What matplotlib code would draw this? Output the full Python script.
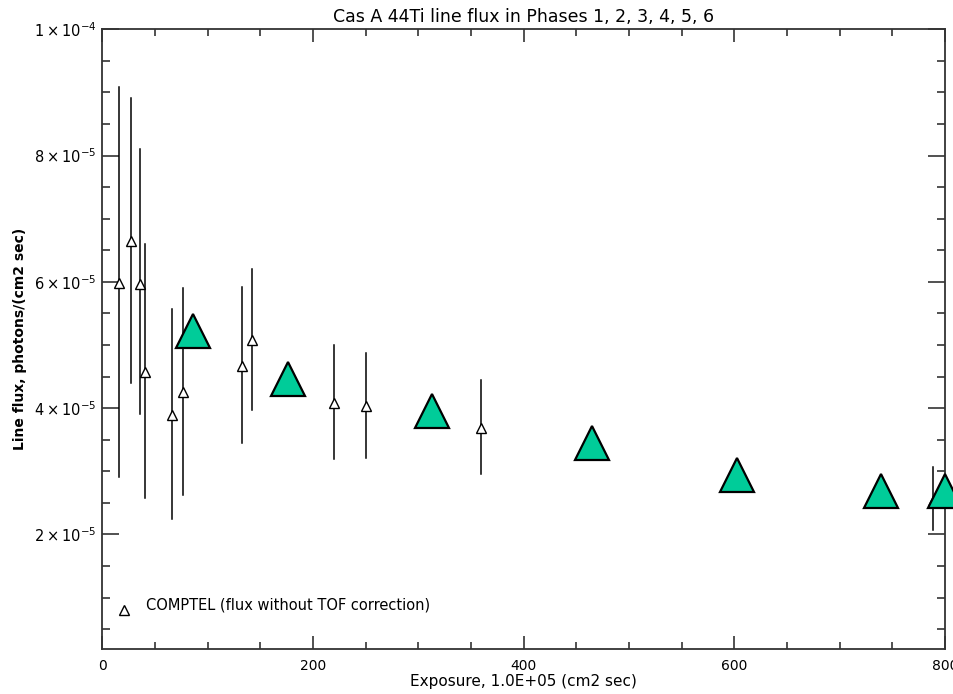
import matplotlib
matplotlib.use("Agg")
import matplotlib.pyplot as plt
from matplotlib.ticker import MultipleLocator, FixedLocator, FuncFormatter

# COMPTEL points (flux without TOF correction), exposure in 1e5 cm2 s
comptel_exp = [16.1, 27.0, 35.8, 41.0, 66.5, 76.9, 132.7, 142.2, 220.3, 250.7, 359.6, 788.2]
comptel_flux = [5.98e-5, 6.64e-5, 5.97e-5, 4.57e-5, 3.89e-5, 4.25e-5,
                4.67e-5, 5.08e-5, 4.08e-5, 4.04e-5, 3.68e-5, 2.53e-5]
comptel_hi = [9.09e-5, 8.91e-5, 8.10e-5, 6.60e-5, 5.57e-5, 5.90e-5,
              5.92e-5, 6.21e-5, 5.00e-5, 4.88e-5, 4.45e-5, 3.07e-5]
comptel_lo = [2.91e-5, 4.39e-5, 3.91e-5, 2.58e-5, 2.24e-5, 2.62e-5,
              3.44e-5, 3.97e-5, 3.19e-5, 3.21e-5, 2.95e-5, 2.07e-5]

# Phase 1-6 cumulative line flux
phase_exp = [85.8, 176.6, 313.4, 465.3, 602.5, 738.8, 799.6]
phase_flux = [5.22e-5, 4.46e-5, 3.95e-5, 3.44e-5, 2.94e-5, 2.68e-5, 2.68e-5]

y_ticks = [2e-5, 4e-5, 6e-5, 8e-5, 1e-4]
y_labels = [r"$2\times10^{-5}$", r"$4\times10^{-5}$", r"$6\times10^{-5}$",
            r"$8\times10^{-5}$", r"$1\times10^{-4}$"]
x_ticks = [0, 200, 400, 600, 800]

fig = plt.figure(figsize=(9.54, 6.94), dpi=100)
ax = fig.add_axes([0.1072, 0.0644, 0.8834, 0.8934])

# error bars drawn as plain vertical lines, no caps
for x, lo, hi in zip(comptel_exp, comptel_lo, comptel_hi):
    ax.plot([x, x], [lo, hi], color="black", lw=1.1, zorder=2)
ax.plot(comptel_exp, comptel_flux, ls="none", marker="^", ms=7, mfc="white",
        mec="black", mew=1.0, zorder=3)

ax.plot(phase_exp, phase_flux, ls="none", marker="^", ms=24, mfc="#00CC99",
        mec="black", mew=1.6, zorder=4, clip_on=False)

ax.set_xlim(0, 800)
ax.set_ylim(1.8e-6, 1e-4)

ax.xaxis.set_major_locator(FixedLocator(x_ticks))
ax.xaxis.set_minor_locator(MultipleLocator(50))
ax.yaxis.set_major_locator(FixedLocator(y_ticks))
ax.yaxis.set_minor_locator(MultipleLocator(5e-6))
ax.set_yticklabels(y_labels)
ax.xaxis.set_major_formatter(FuncFormatter(lambda v, p: f"{v:.0f}"))

ax.tick_params(axis="both", which="both", direction="in", top=True, right=True,
               color="#222222", width=1.1)
ax.tick_params(axis="x", which="major", length=9.5, pad=7, labelsize=10)
ax.tick_params(axis="x", which="minor", length=5)
ax.tick_params(axis="y", which="major", length=12, pad=4, labelsize=10.5)
ax.tick_params(axis="y", which="minor", length=6)
for s in ax.spines.values():
    s.set_linewidth(1.3)
    s.set_color("#333333")

ax.set_title("Cas A 44Ti line flux in Phases 1, 2, 3, 4, 5, 6", fontsize=12.5, pad=5)
ax.set_xlabel("Exposure, 1.0E+05 (cm2 sec)", fontsize=11, labelpad=1)
ax.set_ylabel("Line flux, photons/(cm2 sec)", fontsize=10, fontweight="bold", labelpad=5)

# in-plot legend
ax.plot([21], [7.95e-6], ls="none", marker="^", ms=7, mfc="white", mec="black", mew=1.0)
ax.text(41.5, 8.8e-6, "COMPTEL (flux without TOF correction)", fontsize=10.5,
        va="center", ha="left")

fig.savefig("out.png", dpi=100)
